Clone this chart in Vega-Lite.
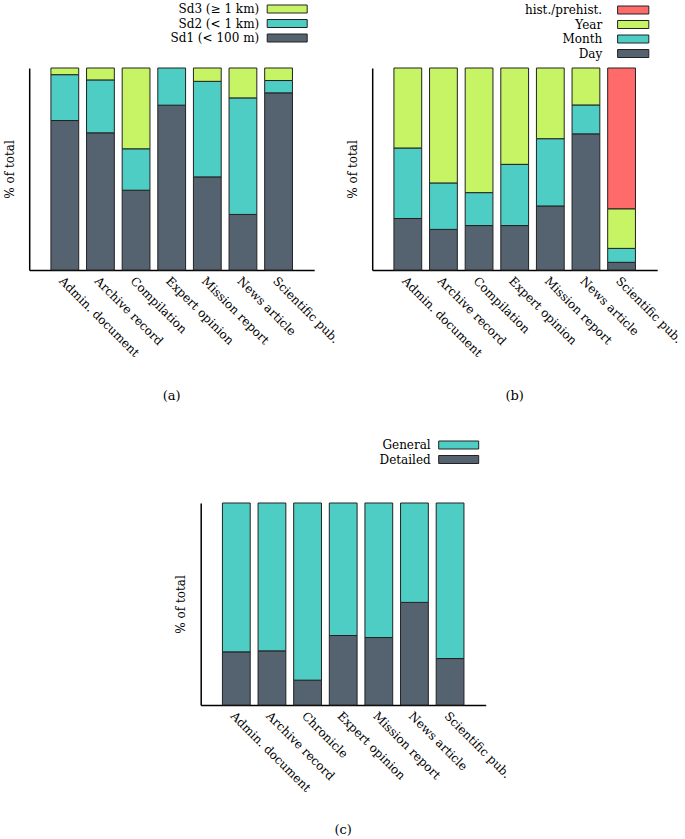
{
  "$schema": "https://vega.github.io/schema/vega-lite/v6.json",
  "background": "white",
  "padding": {"left": 3, "top": 3, "right": 5, "bottom": 2},
  "config": {
    "view": {"stroke": null},
    "font": "DejaVu Serif",
    "axis": {"domainColor": "black", "domainWidth": 1.5, "ticks": false, "grid": false, "labelFont": "DejaVu Serif", "labelFontSize": 12, "labelColor": "black", "titleFont": "DejaVu Serif", "titleFontSize": 12, "titleFontWeight": "normal", "titleColor": "black"},
    "axisX": {"labelAngle": 45, "labelPadding": 5, "labelOverlap": false},
    "axisY": {"labels": false, "titlePadding": 13},
    "legend": {"labelAlign": "right", "labelFont": "DejaVu Serif", "labelFontSize": 12, "labelColor": "black", "symbolSize": 64, "symbolStrokeColor": "#222", "symbolStrokeWidth": 1, "symbolOpacity": 1, "padding": 0, "rowPadding": 2.5, "labelLimit": 300},
    "title": {"font": "DejaVu Serif", "fontSize": 13, "fontWeight": "normal", "color": "black", "orient": "bottom", "frame": "group", "anchor": "middle", "offset": 31},
    "bar": {"stroke": "#222", "strokeWidth": 1}
  },
  "datasets": {
    "spatial": [
      {"source": "Admin. document", "precision": "Sd1 (< 100 m)", "pct": 74.0},
      {"source": "Admin. document", "precision": "Sd2 (< 1 km)", "pct": 22.7},
      {"source": "Admin. document", "precision": "Sd3 (≥ 1 km)", "pct": 3.3},
      {"source": "Archive record", "precision": "Sd1 (< 100 m)", "pct": 67.9},
      {"source": "Archive record", "precision": "Sd2 (< 1 km)", "pct": 26.2},
      {"source": "Archive record", "precision": "Sd3 (≥ 1 km)", "pct": 5.9},
      {"source": "Compilation", "precision": "Sd1 (< 100 m)", "pct": 39.5},
      {"source": "Compilation", "precision": "Sd2 (< 1 km)", "pct": 20.5},
      {"source": "Compilation", "precision": "Sd3 (≥ 1 km)", "pct": 40.0},
      {"source": "Expert opinion", "precision": "Sd1 (< 100 m)", "pct": 81.6},
      {"source": "Expert opinion", "precision": "Sd2 (< 1 km)", "pct": 18.4},
      {"source": "Mission report", "precision": "Sd1 (< 100 m)", "pct": 46.1},
      {"source": "Mission report", "precision": "Sd2 (< 1 km)", "pct": 47.3},
      {"source": "Mission report", "precision": "Sd3 (≥ 1 km)", "pct": 6.6},
      {"source": "News article", "precision": "Sd1 (< 100 m)", "pct": 27.5},
      {"source": "News article", "precision": "Sd2 (< 1 km)", "pct": 57.7},
      {"source": "News article", "precision": "Sd3 (≥ 1 km)", "pct": 14.8},
      {"source": "Scientific pub.", "precision": "Sd1 (< 100 m)", "pct": 87.7},
      {"source": "Scientific pub.", "precision": "Sd2 (< 1 km)", "pct": 6.1},
      {"source": "Scientific pub.", "precision": "Sd3 (≥ 1 km)", "pct": 6.2}
    ],
    "temporal": [
      {"source": "Admin. document", "precision": "Day", "pct": 25.5},
      {"source": "Admin. document", "precision": "Month", "pct": 34.9},
      {"source": "Admin. document", "precision": "Year", "pct": 39.6},
      {"source": "Archive record", "precision": "Day", "pct": 20.1},
      {"source": "Archive record", "precision": "Month", "pct": 23.0},
      {"source": "Archive record", "precision": "Year", "pct": 56.9},
      {"source": "Compilation", "precision": "Day", "pct": 22.0},
      {"source": "Compilation", "precision": "Month", "pct": 16.3},
      {"source": "Compilation", "precision": "Year", "pct": 61.7},
      {"source": "Expert opinion", "precision": "Day", "pct": 22.0},
      {"source": "Expert opinion", "precision": "Month", "pct": 30.3},
      {"source": "Expert opinion", "precision": "Year", "pct": 47.7},
      {"source": "Mission report", "precision": "Day", "pct": 31.7},
      {"source": "Mission report", "precision": "Month", "pct": 33.3},
      {"source": "Mission report", "precision": "Year", "pct": 35.0},
      {"source": "News article", "precision": "Day", "pct": 67.4},
      {"source": "News article", "precision": "Month", "pct": 14.3},
      {"source": "News article", "precision": "Year", "pct": 18.3},
      {"source": "Scientific pub.", "precision": "Day", "pct": 3.8},
      {"source": "Scientific pub.", "precision": "Month", "pct": 6.9},
      {"source": "Scientific pub.", "precision": "Year", "pct": 19.6},
      {"source": "Scientific pub.", "precision": "hist./prehist.", "pct": 69.7}
    ],
    "detail": [
      {"source": "Admin. document", "precision": "Detailed", "pct": 26.3},
      {"source": "Admin. document", "precision": "General", "pct": 73.7},
      {"source": "Archive record", "precision": "Detailed", "pct": 26.8},
      {"source": "Archive record", "precision": "General", "pct": 73.2},
      {"source": "Chronicle", "precision": "Detailed", "pct": 12.3},
      {"source": "Chronicle", "precision": "General", "pct": 87.7},
      {"source": "Expert opinion", "precision": "Detailed", "pct": 34.4},
      {"source": "Expert opinion", "precision": "General", "pct": 65.6},
      {"source": "Mission report", "precision": "Detailed", "pct": 33.4},
      {"source": "Mission report", "precision": "General", "pct": 66.6},
      {"source": "News article", "precision": "Detailed", "pct": 50.8},
      {"source": "News article", "precision": "General", "pct": 49.2},
      {"source": "Scientific pub.", "precision": "Detailed", "pct": 23.0},
      {"source": "Scientific pub.", "precision": "General", "pct": 77.0}
    ]
  },
  "center": true,
  "spacing": 36,
  "resolve": {"scale": {"x": "independent", "y": "independent", "color": "independent"}, "legend": {"color": "independent"}, "axis": {"x": "independent", "y": "independent"}},
  "vconcat": [
    {
      "bounds": "flush",
      "spacing": 58,
      "resolve": {"scale": {"x": "independent", "y": "independent", "color": "independent"}, "legend": {"color": "independent"}, "axis": {"x": "independent", "y": "independent"}},
      "hconcat": [
        {
          "data": {"name": "spatial"},
          "width": 285,
          "height": 202,
          "title": {"text": "(a)"},
          "mark": {"type": "bar"},
          "encoding": {
            "x": {"field": "source", "type": "nominal", "title": null, "scale": {"paddingInner": 0.22, "paddingOuter": 0.61}},
            "y": {"field": "pct", "type": "quantitative", "stack": "zero", "scale": {"domain": [0, 100]}, "title": "% of total"},
            "color": {"field": "precision", "type": "nominal", "scale": {"domain": ["Sd3 (≥ 1 km)", "Sd2 (< 1 km)", "Sd1 (< 100 m)"], "range": ["#C7F464", "#4ECDC4", "#556270"]}, "legend": {"title": null, "orient": "none", "legendX": 252, "legendY": -65, "symbolType": "M-5,-1H5V1H-5Z", "labelOffset": -34}},
            "order": {"field": "precision", "type": "ordinal", "sort": "ascending"}
          }
        },
        {
          "data": {"name": "temporal"},
          "width": 285,
          "height": 202,
          "title": {"text": "(b)"},
          "mark": {"type": "bar"},
          "encoding": {
            "x": {"field": "source", "type": "nominal", "title": null, "scale": {"paddingInner": 0.22, "paddingOuter": 0.61}},
            "y": {"field": "pct", "type": "quantitative", "stack": "zero", "scale": {"domain": [0, 100]}, "title": "% of total"},
            "color": {"field": "precision", "type": "nominal", "scale": {"domain": ["hist./prehist.", "Year", "Month", "Day"], "range": ["#FF6B6B", "#C7F464", "#4ECDC4", "#556270"]}, "legend": {"title": null, "orient": "none", "legendX": 255, "legendY": -64, "symbolType": "M-3.9,-1H3.9V1H-3.9Z", "labelOffset": -37}},
            "order": {"field": "precision", "type": "ordinal", "sort": "ascending"}
          }
        }
      ]
    },
    {
      "data": {"name": "detail"},
      "width": 285,
      "height": 202,
      "title": {"text": "(c)", "offset": 30},
      "mark": {"type": "bar"},
      "encoding": {
        "x": {"field": "source", "type": "nominal", "title": null, "scale": {"paddingInner": 0.22, "paddingOuter": 0.61}},
        "y": {"field": "pct", "type": "quantitative", "stack": "zero", "scale": {"domain": [0, 100]}, "title": "% of total"},
        "color": {"field": "precision", "type": "nominal", "scale": {"domain": ["General", "Detailed"], "range": ["#4ECDC4", "#556270"]}, "legend": {"title": null, "orient": "none", "legendX": 252, "legendY": -64, "symbolType": "M-5,-1H5V1H-5Z", "labelOffset": -34}},
        "order": {"field": "precision", "type": "ordinal", "sort": "ascending"}
      }
    }
  ]
}
